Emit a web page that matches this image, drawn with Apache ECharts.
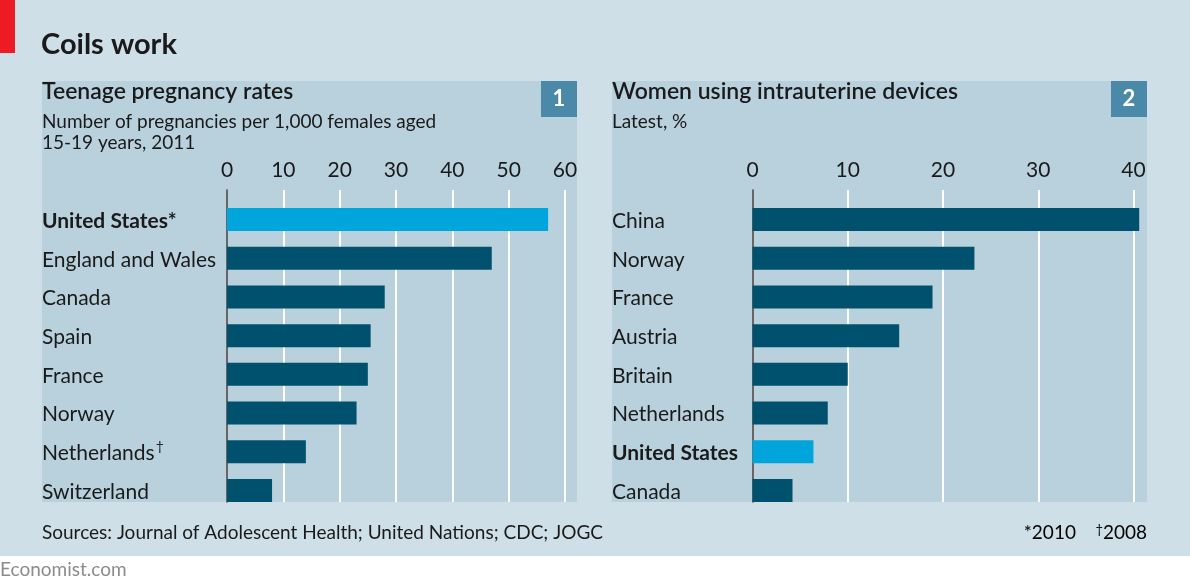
<!DOCTYPE html>
<html>
<head>
<meta charset="utf-8">
<script src="https://cdn.jsdelivr.net/npm/echarts@6/dist/echarts.min.js"></script>
<style>
html,body{margin:0;padding:0;background:#ffffff;}
#chart{width:1190px;height:588px;}
</style>
</head>
<body>
<div id="chart"></div>
<script>
// ---- Data ----
const leftCategories = ['United States*', 'England and Wales', 'Canada', 'Spain', 'France', 'Norway', 'Netherlands†', 'Switzerland'];
const leftValues = [57, 47, 28, 25.5, 25, 23, 14, 8];
const leftTicks = [0, 10, 20, 30, 40, 50, 60];

const rightCategories = ['China', 'Norway', 'France', 'Austria', 'Britain', 'Netherlands', 'United States', 'Canada'];
const rightValues = [40.6, 23.3, 18.9, 15.4, 10, 7.9, 6.4, 4.2];
const rightTicks = [0, 10, 20, 30, 40];

const highlightCategory = 'United States';

// ---- Styles ----
const FONT = 'Lato, "Noto Sans", sans-serif';
const OUTER_BG = '#cfdfe7';
const PANEL_BG = '#b9d1dd';
const DARK = '#00516d';
const BRIGHT = '#00a5dc';
const BOX = '#4a8aa8';
const TEXT = '#1a1a1a';

const chart = echarts.init(document.getElementById('chart'), null, {renderer: 'canvas'});

function catLabel(v) {
  let mark = '';
  let name = v;
  if (v.endsWith('†')) { name = v.slice(0, -1); mark = '†'; }
  const bold = v.startsWith(highlightCategory);
  if (bold) return '{b|' + name + '}' + (mark ? '{s|' + mark + '}' : '');
  return '{n|' + name + '}' + (mark ? '{s|' + mark + '}' : '');
}
const labelRich = {
  n: {fontFamily: FONT, fontSize: 21, color: TEXT, padding: [3, 0, 0, 0]},
  b: {fontFamily: FONT, fontSize: 21, color: TEXT, fontWeight: 'bold', padding: [3, 0, 0, 0]},
  s: {fontFamily: FONT, fontSize: 14, color: TEXT, verticalAlign: 'top', padding: [0, 0, 6, 1]}
};
function barColor(p) { return p.name.startsWith(highlightCategory) ? BRIGHT : DARK; }

const PANEL_TOP = 81, PANEL_BOTTOM = 502;
const LINES_TOP = 190;
const BAR_TOP = 200.2, BAR_H = 309.6;
const L_LEFT = 227, L_W = 338;
const R_LEFT = 752.5, R_W = 381;

function linesX(gridIndex, ticks) {
  return {
    type: 'value', gridIndex: gridIndex, position: 'top',
    min: ticks[0], max: ticks[ticks.length - 1], interval: ticks[1] - ticks[0],
    axisLine: {show: false}, axisTick: {show: false},
    axisLabel: {fontFamily: FONT, fontSize: 21, color: TEXT, margin: 9},
    splitLine: {show: true, lineStyle: {color: '#ffffff', width: 2}}
  };
}
function hiddenX(gridIndex, ticks) {
  return {type: 'value', gridIndex: gridIndex, min: ticks[0], max: ticks[ticks.length - 1], show: false, splitLine: {show: false}};
}
function catY(gridIndex, cats, margin) {
  return {
    type: 'category', gridIndex: gridIndex, data: cats, inverse: true,
    axisLine: {show: false}, axisTick: {show: false}, splitLine: {show: false},
    axisLabel: {align: 'left', margin: margin, formatter: catLabel, rich: labelRich}
  };
}
function lineY(gridIndex) {
  return {
    type: 'value', gridIndex: gridIndex, min: 0, max: 1,
    axisLine: {show: true, lineStyle: {color: '#333333', width: 1.5}},
    axisTick: {show: false}, axisLabel: {show: false}, splitLine: {show: false}
  };
}

const option = {
  backgroundColor: '#ffffff',
  animation: false,
  grid: [
    {left: L_LEFT, top: BAR_TOP, width: L_W, height: BAR_H},
    {left: L_LEFT, top: LINES_TOP, width: L_W, height: PANEL_BOTTOM - LINES_TOP},
    {left: R_LEFT, top: BAR_TOP, width: R_W, height: BAR_H},
    {left: R_LEFT, top: LINES_TOP, width: R_W, height: PANEL_BOTTOM - LINES_TOP}
  ],
  xAxis: [hiddenX(0, leftTicks), linesX(1, leftTicks), hiddenX(2, rightTicks), linesX(3, rightTicks)],
  yAxis: [catY(0, leftCategories, L_LEFT - 42), lineY(1), catY(2, rightCategories, R_LEFT - 612), lineY(3)],
  series: [
    {type: 'bar', xAxisIndex: 0, yAxisIndex: 0, data: leftValues, barWidth: 23, clip: false,
     itemStyle: {color: barColor}},
    {type: 'bar', xAxisIndex: 2, yAxisIndex: 2, data: rightValues, barWidth: 23, clip: false,
     itemStyle: {color: barColor}}
  ],
  graphic: [
    {type: 'rect', z: -10, shape: {x: 0, y: 0, width: 1190, height: 556}, style: {fill: OUTER_BG}, silent: true},
    {type: 'rect', z: -9, shape: {x: 0, y: 0, width: 15, height: 53}, style: {fill: '#ed1c24'}, silent: true},
    {type: 'rect', z: -9, shape: {x: 42, y: PANEL_TOP, width: 535, height: PANEL_BOTTOM - PANEL_TOP}, style: {fill: PANEL_BG}, silent: true},
    {type: 'rect', z: -9, shape: {x: 612, y: PANEL_TOP, width: 535, height: PANEL_BOTTOM - PANEL_TOP}, style: {fill: PANEL_BG}, silent: true},
    {type: 'rect', z: -8, shape: {x: 541, y: 81, width: 36, height: 36}, style: {fill: BOX}, silent: true},
    {type: 'rect', z: -8, shape: {x: 1111, y: 81, width: 36, height: 36}, style: {fill: BOX}, silent: true},
    {type: 'text', x: 559, y: 99, style: {text: '1', fill: '#ffffff', font: 'bold 22px ' + FONT, textAlign: 'center', textVerticalAlign: 'middle'}},
    {type: 'text', x: 1129, y: 99, style: {text: '2', fill: '#ffffff', font: 'bold 22px ' + FONT, textAlign: 'center', textVerticalAlign: 'middle'}},
    {type: 'text', x: 41, y: 59, style: {text: 'Coils work', fill: TEXT, font: 'bold 29px ' + FONT, textAlign: 'left', textVerticalAlign: 'bottom'}},
    {type: 'text', x: 42, y: 103, style: {text: 'Teenage pregnancy rates', fill: TEXT, font: '600 23px ' + FONT, textAlign: 'left', textVerticalAlign: 'bottom'}},
    {type: 'text', x: 42, y: 131, style: {text: 'Number of pregnancies per 1,000 females aged', fill: TEXT, font: '19px ' + FONT, textAlign: 'left', textVerticalAlign: 'bottom'}},
    {type: 'text', x: 42, y: 152, style: {text: '15-19 years, 2011', fill: TEXT, font: '19px ' + FONT, textAlign: 'left', textVerticalAlign: 'bottom'}},
    {type: 'text', x: 612, y: 103, style: {text: 'Women using intrauterine devices', fill: TEXT, font: '600 23px ' + FONT, textAlign: 'left', textVerticalAlign: 'bottom'}},
    {type: 'text', x: 612, y: 131, style: {text: 'Latest, %', fill: TEXT, font: '19px ' + FONT, textAlign: 'left', textVerticalAlign: 'bottom'}},
    {type: 'text', x: 42, y: 542, style: {text: 'Sources: Journal of Adolescent Health; United Nations; CDC; JOGC', fill: TEXT, font: '19px ' + FONT, textAlign: 'left', textVerticalAlign: 'bottom'}},
    {type: 'text', x: 1147, y: 542, style: {
      text: '{n|*2010    }{s|†}{n|2008}', textAlign: 'right', textVerticalAlign: 'bottom',
      rich: {n: {fontFamily: FONT, fontSize: 19, color: TEXT}, s: {fontFamily: FONT, fontSize: 13, color: TEXT, verticalAlign: 'top'}}
    }},
    {type: 'text', x: 0, y: 579, style: {text: 'Economist.com', fill: '#8c8c8c', font: '19px ' + FONT, textAlign: 'left', textVerticalAlign: 'bottom'}}
  ]
};
chart.setOption(option);
</script>
</body>
</html>
